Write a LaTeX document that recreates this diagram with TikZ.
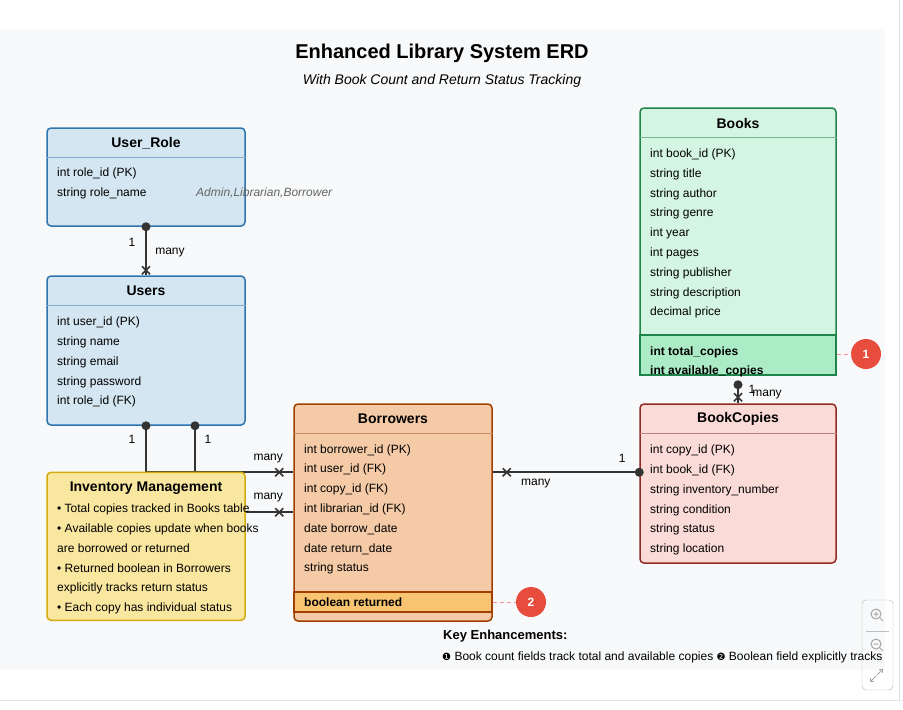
\documentclass[tikz,border=0pt]{standalone}
\usepackage{fontspec}
\setmainfont{Liberation Sans}
\newfontfamily\dejavu{DejaVu Sans}
\usepackage{tikz}
\usetikzlibrary{positioning, arrows.meta, calc}

\definecolor{panelbg}{HTML}{F8F9FA}
\definecolor{roleFill}{HTML}{D4E6F1}
\definecolor{roleLine}{HTML}{2E74AE}
\colorlet{usersFill}{roleFill}
\colorlet{usersLine}{roleLine}
\definecolor{booksFill}{HTML}{D5F5E3}
\definecolor{booksLine}{HTML}{1E8449}
\definecolor{booksHi}{HTML}{ABEBC6}
\definecolor{copiesFill}{HTML}{FADBD8}
\definecolor{copiesLine}{HTML}{922B21}
\definecolor{borrFill}{HTML}{F5CBA7}
\definecolor{borrLine}{HTML}{A04000}
\definecolor{borrHi}{HTML}{F8C471}
\definecolor{invFill}{HTML}{F9E79F}
\definecolor{invLine}{HTML}{D4AC0D}
\definecolor{noteRed}{HTML}{E74C3C}
\definecolor{linkGray}{HTML}{333333}

\tikzset{
  crossmark/.pic={\draw[line width=1.5pt, linkGray] (-4,-4) -- (4,4) (-4,4) -- (4,-4);},
}

\begin{document}
\begin{tikzpicture}[x=1pt, y=-1pt,
  entity/.style={draw=#1Line, fill=#1Fill, line width=1.5pt, rounded corners=4pt,
                 inner sep=0pt, minimum width=198pt},
  sepline/.style={draw=#1Line!60, line width=1pt},
  etitle/.style={font=\fontsize{14}{16}\selectfont\bfseries, inner sep=0pt},
  field/.style={anchor=west, inner sep=0pt, font=\fontsize{12}{14}\selectfont,
                text height=9pt, text depth=1pt},
  link/.style={line width=1.6pt, draw=linkGray},
  card/.style={font=\fontsize{12}{14}\selectfont, inner sep=0pt},
  badge/.style={circle, fill=noteRed, text=white, minimum size=30pt, inner sep=0pt,
                font=\fontsize{12}{14}\selectfont\bfseries},
  notelink/.style={draw=noteRed!60, line width=1pt, dash pattern=on 4pt off 3pt},
  ctrl/.style={draw=gray!70, line width=1pt}]
  \useasboundingbox (0,0) rectangle (903,710);
  \fill[white] (0,0) rectangle (903,710);
  \fill[panelbg] (0,29) rectangle (885,670);
  \draw[gray!20] (0,700) -- (903,700);
  \draw[gray!25] (899,0) -- (899,700);

  % title
  \node[font=\fontsize{20}{24}\selectfont\bfseries] (title) at (442,53.5) {Enhanced Library System ERD};
  \node[font=\fontsize{14}{16}\selectfont\itshape] (subtitle) at (442,80.5) {With Book Count and Return Status Tracking};

  % entities
  \node[entity=role, minimum height=98pt] (role) at (146,177) {};
  \node[entity=users, minimum height=149pt] (users) at (146,350.5) {};
  \node[entity=borr, minimum height=217pt] (borr) at (393,512.5) {};
  \node[entity=books, minimum width=196pt, minimum height=267pt] (books) at (738,241.5) {};
  \node[entity=copies, minimum width=196pt, minimum height=159pt] (copies) at (738,483.5) {};

  % highlighted rows
  \draw[booksLine, fill=booksHi, line width=1.5pt] (640,335) rectangle (836,375);
  \draw[borrLine, fill=borrHi, line width=1.2pt] (294,592) rectangle (492,612);

  \foreach \e in {role,users,borr,books,copies}
    \draw[sepline=\e] ($(\e.north west)+(0,30)$) -- ($(\e.north east)+(0,30)$);

  \node[etitle] (role-t) at (146,143) {User\_Role};
  \node[etitle] (users-t) at (146,291) {Users};
  \node[etitle] (borr-t) at (393,419) {Borrowers};
  \node[etitle] (books-t) at (738,123) {Books};
  \node[etitle] (copies-t) at (738,419) {BookCopies};

  \foreach \y/\t [count=\i] in {172/int role\_id (PK), 192/string role\_name}
    \node[field] (role-f\i) at (57,\y) {\t};
  \node[field, font=\fontsize{12}{14}\selectfont\itshape, text=black!60] (role-note) at (196,192) {Admin,Librarian,Borrower};

  \foreach \y/\t [count=\i] in {321/int user\_id (PK), 341/string name, 361/string email,
      381/string password, 400/int role\_id (FK)}
    \node[field] (users-f\i) at (57,\y) {\t};

  \foreach \y/\t [count=\i] in {449/int borrower\_id (PK), 468/int user\_id (FK),
      488/int copy\_id (FK), 508/int librarian\_id (FK), 528/date borrow\_date,
      548/date return\_date, 567/string status}
    \node[field] (borr-f\i) at (304,\y) {\t};
  \node[field, font=\fontsize{12}{14}\selectfont\bfseries] (borr-f8) at (304,602) {boolean returned};

  \foreach \y/\t [count=\i] in {153/int book\_id (PK), 173/string title, 193/string author,
      212/string genre, 232/int year, 252/int pages, 272/string publisher,
      292/string description, 311/decimal price}
    \node[field] (books-f\i) at (650,\y) {\t};
  \node[field, font=\fontsize{12}{14}\selectfont\bfseries] (books-f10) at (650,351) {int total\_copies};
  \node[field, font=\fontsize{12}{14}\selectfont\bfseries] (books-f11) at (650,370) {int available\_copies};

  \foreach \y/\t [count=\i] in {449/int copy\_id (PK), 469/int book\_id (FK),
      489/string inventory\_number, 509/string condition, 528/string status, 548/string location}
    \node[field] (copies-f\i) at (650,\y) {\t};

  % relations
  \draw[link] (role.south) -- (users.north);
  \fill[linkGray] (role.south) circle (4.5pt);
  \pic at ($(users.north)+(0,-5)$) {crossmark};
  \node[card] (c1) at ($(role.south)+(-14,16)$) {1};
  \node[card] (c2) at ($(role.south)+(24,26)$) {many};

  \draw[link] (users.south) |- ($(borr.north west)+(0,69)$);
  \draw[link] ($(users.south)+(49,0)$) |- ($(borr.north west)+(0,109)$);
  \fill[linkGray] (users.south) circle (4.5pt) ($(users.south)+(49,0)$) circle (4.5pt);
  \pic at ($(borr.north west)+(-14,69)$) {crossmark};
  \pic at ($(borr.north west)+(-14,109)$) {crossmark};
  \node[card] (c3) at ($(users.south)+(-14,14)$) {1};
  \node[card] (c4) at ($(users.south)+(62,14)$) {1};
  \node[card] (c5) at ($(borr.north west)+(-25,55)$) {many};
  \node[card] (c6) at ($(borr.north west)+(-25,94)$) {many};

  \draw[link] ($(borr.north east)+(0,69)$) -- ($(copies.north west)+(0,69)$);
  \pic at ($(borr.north east)+(14,69)$) {crossmark};
  \fill[linkGray] ($(copies.north west)+(0,69)$) circle (4.5pt);
  \node[card] (c7) at ($(borr.north east)+(43,80)$) {many};
  \node[card] (c8) at ($(copies.north west)+(-17,55)$) {1};

  \draw[link] ($(books.south)+(0,9)$) -- (copies.north);
  \fill[linkGray] ($(books.south)+(0,9)$) circle (4.5pt);
  \pic at ($(copies.north)+(0,-6)$) {crossmark};
  \node[card] (c9) at ($(copies.north)+(14,-14)$) {1};
  \node[card] (c10) at ($(copies.north)+(29,-9)$) {many};

  % inventory note
  \node[draw=invLine, fill=invFill, line width=1.5pt, rounded corners=4pt, inner sep=0pt,
        minimum width=198pt, minimum height=148pt] (inv) at (146,546.25) {};
  \node[etitle] (inv-t) at (146,488) {Inventory Management};
  \foreach \y/\t [count=\i] in {508/\textbullet\ Total copies tracked in Books table,
      528/\textbullet\ Available copies update when books, 548/are borrowed or returned,
      568/\textbullet\ Returned boolean in Borrowers, 587/explicitly tracks return status,
      607/\textbullet\ Each copy has individual status}
    \node[field] (inv-f\i) at (57,\y) {\t};

  % badges
  \node[badge] (b1) at (866,354) {1};
  \node[badge] (b2) at (531,602) {2};
  \draw[notelink] (books.east |- b1) -- (b1);
  \draw[notelink] (borr.east |- b2) -- (b2);

  % key
  \node[anchor=west, inner sep=0pt, font=\fontsize{13}{15}\selectfont\bfseries] (keyhead) at (443,636) {Key Enhancements:};
  \begin{scope}
    \clip (0,29) rectangle (885,670);
    \node[anchor=west, inner sep=0pt, font=\fontsize{12}{14}\selectfont] (keyline) at (442,657)
      {{\dejavu\fontsize{10}{12}\selectfont ❶} Book count fields track total and available copies
       {\dejavu\fontsize{10}{12}\selectfont ❷} Boolean field explicitly tracks return status};
  \end{scope}

  % zoom controls
  \draw[gray!60, rounded corners=4pt] (862,600) rectangle (893,690);
  \draw[ctrl] (876,614) circle (5pt) (879.5,617.5) -- (883,621) (873.5,614) -- (878.5,614) (876,611.5) -- (876,616.5);
  \draw[gray!50] (866,631) -- (889,631);
  \draw[ctrl] (876,644) circle (5pt) (879.5,647.5) -- (883,651) (873.5,644) -- (878.5,644);
  \draw[ctrl, -{Straight Barb[length=2.5pt]}] (877,675) -- (883,669);
  \draw[ctrl, -{Straight Barb[length=2.5pt]}] (876,676) -- (870,682);
\end{tikzpicture}
\end{document}
